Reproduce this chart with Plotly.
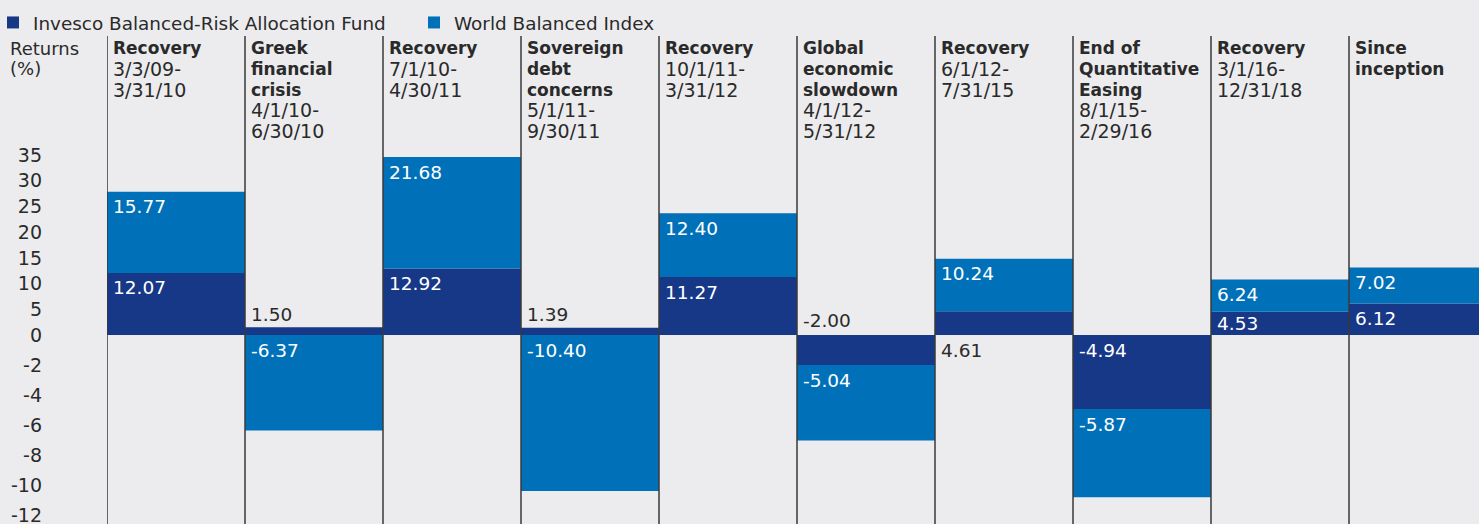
import plotly.graph_objects as go

# ---------------- data ----------------
periods_bold = [
    ["Recovery"],
    ["Greek", "financial", "crisis"],
    ["Recovery"],
    ["Sovereign", "debt", "concerns"],
    ["Recovery"],
    ["Global", "economic", "slowdown"],
    ["Recovery"],
    ["End of", "Quantitative", "Easing"],
    ["Recovery"],
    ["Since", "inception"],
]
periods_dates = [
    ["3/3/09-", "3/31/10"],
    ["4/1/10-", "6/30/10"],
    ["7/1/10-", "4/30/11"],
    ["5/1/11-", "9/30/11"],
    ["10/1/11-", "3/31/12"],
    ["4/1/12-", "5/31/12"],
    ["6/1/12-", "7/31/15"],
    ["8/1/15-", "2/29/16"],
    ["3/1/16-", "12/31/18"],
    [],
]
fund_returns = [12.07, 1.50, 12.92, 1.39, 11.27, -2.00, 4.61, -4.94, 4.53, 6.12]
index_returns = [15.77, -6.37, 21.68, -10.40, 12.40, -5.04, 10.24, -5.87, 6.24, 7.02]
pos_ticks = [0, 5, 10, 15, 20, 25, 30, 35]
neg_ticks = [-2, -4, -6, -8, -10, -12]
fund_name = "Invesco Balanced-Risk Allocation Fund"
index_name = "World Balanced Index"
y_title = ["Returns", "(%)"]

# label placement style for fund values: "in", "above", "opposite"
fund_label_mode = ["in", "above", "in", "above", "in", "opposite", "opposite", "in", "in", "in"]

# ---------------- style ----------------
W, H = 1479, 524
ML, MT = 107, 36
COL_PX = 138.0
POS_UNIT = 180.0 / 35.0   # px per % above zero
NEG_UNIT = 15.0           # px per % below zero
ZERO_PX = 335
DARK = "#173787"
LIGHT = "#0071b9"
BG = "#ececee"
TXT = "#2a2a2a"
FONT = "DejaVu Sans"


def scale(v):
    return v * POS_UNIT if v >= 0 else v * NEG_UNIT


def ypx(p):
    """pixel row -> y data value"""
    return ZERO_PX - p


n = len(fund_returns)
xs = list(range(n))

fund_base = [0.0] * n
fund_len = [scale(v) for v in fund_returns]
idx_base, idx_len = [], []
for fv, iv in zip(fund_returns, index_returns):
    if (fv >= 0) == (iv >= 0):
        b = scale(fv)
        t = scale(fv + iv)
    else:
        b = 0.0
        t = scale(iv)
    idx_base.append(b)
    idx_len.append(t - b)

fig = go.Figure()
fig.add_trace(go.Bar(
    x=xs, y=fund_len, base=fund_base, width=1, name=fund_name,
    marker=dict(color=DARK, line=dict(width=0)),
    customdata=fund_returns, hovertemplate="%{customdata:.2f}<extra>" + fund_name + "</extra>",
))
fig.add_trace(go.Bar(
    x=xs, y=idx_len, base=idx_base, width=1, name=index_name,
    marker=dict(color=LIGHT, line=dict(width=0)),
    customdata=index_returns, hovertemplate="%{customdata:.2f}<extra>" + index_name + "</extra>",
))

annotations = []
pad_x = 4.0 / COL_PX


def seg_label(i, base, length, value, color):
    upper = max(base, base + length)
    h = abs(length)
    yc = upper - min(15.0, h / 2.0)
    annotations.append(dict(
        x=i - 0.5 + pad_x, y=yc, xref="x", yref="y", text=f"{value:.2f}",
        showarrow=False, xanchor="left", yanchor="middle",
        font=dict(family=FONT, size=18.5, color=color),
    ))


for i in range(n):
    mode = fund_label_mode[i]
    if mode == "in":
        seg_label(i, fund_base[i], fund_len[i], fund_returns[i], "white")
    else:
        if mode == "above":
            yc = max(0, fund_len[i]) + 13
        else:
            yc = -15 if fund_returns[i] > 0 else 15
        annotations.append(dict(
            x=i - 0.5 + pad_x, y=yc, xref="x", yref="y", text=f"{fund_returns[i]:.2f}",
            showarrow=False, xanchor="left", yanchor="middle",
            font=dict(family=FONT, size=18.5, color=TXT),
        ))
    seg_label(i, idx_base[i], idx_len[i], index_returns[i], "white")

# column headers
LINE_H = 20.8
for i in range(n):
    lines = [("<b>" + s + "</b>", 17) for s in periods_bold[i]] + [(s, 19) for s in periods_dates[i]]
    for k, (s, fs) in enumerate(lines):
        annotations.append(dict(
            x=i - 0.5 + pad_x, y=ypx(48 + LINE_H * k), xref="x", yref="y", text=s,
            showarrow=False, xanchor="left", yanchor="middle",
            font=dict(family=FONT, size=fs, color=TXT),
        ))

for k, s in enumerate(y_title):
    annotations.append(dict(
        x=(8 - ML) / (W - ML), y=ypx(48 + LINE_H * k), xref="paper", yref="y", text=s,
        showarrow=False, xanchor="left", yanchor="middle",
        font=dict(family=FONT, size=18, color=TXT),
    ))

shapes = []
for i in range(n):
    shapes.append(dict(
        type="line", xref="x", yref="paper", x0=i - 0.5, x1=i - 0.5, y0=0, y1=1,
        line=dict(color="#3a3a3a", width=1.5),
    ))

tickvals = [scale(v) for v in pos_ticks + neg_ticks]
ticktext = [str(v) for v in pos_ticks + neg_ticks]

fig.update_layout(
    width=W, height=H,
    margin=dict(l=ML, r=0, t=MT, b=0, autoexpand=False),
    paper_bgcolor=BG, plot_bgcolor=BG,
    barmode="overlay",
    showlegend=True,
    legend=dict(
        orientation="h", x=(-7 - ML) / (W - ML), xanchor="left",
        y=1 + (MT - 4.0) / (H - MT), yanchor="top", traceorder="normal",
        font=dict(family=FONT, size=18.4, color=TXT),
        entrywidth=376, entrywidthmode="pixels",
        bgcolor="rgba(0,0,0,0)", itemclick=False, itemdoubleclick=False,
    ),
    xaxis=dict(range=[-0.5, -0.5 + (W - ML) / COL_PX], visible=False, fixedrange=True),
    yaxis=dict(
        range=[ypx(H), ypx(MT)], tickvals=tickvals, ticktext=ticktext,
        showgrid=False, zeroline=False, showline=False, ticks="",
        ticklabelstandoff=64, ticklabeloverflow="allow",
        tickfont=dict(family=FONT, size=19, color=TXT), fixedrange=True,
    ),
    annotations=annotations,
    shapes=shapes,
    font=dict(family=FONT, color=TXT),
)

fig.write_html(
    "out.html",
    config={"displayModeBar": False},
    post_script="document.body.style.margin='0';document.body.style.padding='0';"
                "document.body.style.overflow='hidden';document.body.style.background='" + BG + "';",
)
